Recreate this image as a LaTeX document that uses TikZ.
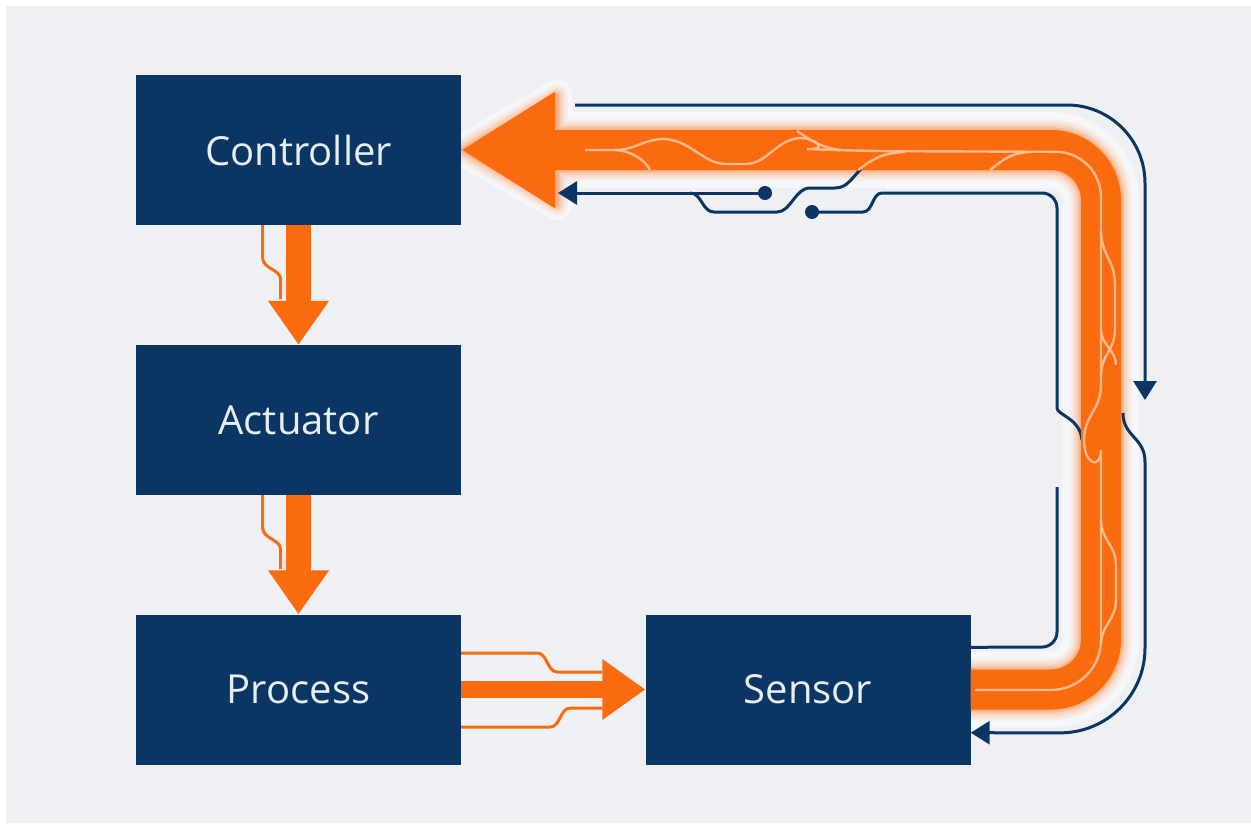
\documentclass[tikz,border=0pt]{standalone}
\usepackage{fontspec}
\setmainfont{Open Sans}
\usetikzlibrary{arrows.meta,calc}
\definecolor{navy}{HTML}{0B3562}
\definecolor{flame}{HTML}{FA6A0E}
\definecolor{paper}{HTML}{EEF0F4}
\definecolor{streak}{HTML}{FFC39A}
\definecolor{label}{HTML}{E6EDF3}
\pgfdeclarelayer{back}
\pgfsetlayers{back,main}

\begin{document}
\begin{tikzpicture}[x=1pt,y=-1pt,
  block/.style={fill=navy, minimum width=325pt, minimum height=150pt,
    inner sep=0pt, text=label, font=\fontsize{40}{48}\selectfont},
  wire/.style={draw=navy, line width=3pt},
  wirearrow/.style={wire, -{Triangle[width=23pt,length=19pt]}},
  flow/.style={draw=flame, line width=25pt, -{Triangle[width=58pt,length=44pt]}},
  sideflow/.style={draw=flame, line width=17pt, -{Triangle[width=58pt,length=43pt]}},
  strand/.style={draw=flame, line width=3pt},
  streakline/.style={draw=streak, line width=2.4pt, opacity=0.9},
  dot/.style={fill=navy}
]
\useasboundingbox (0,0) rectangle (1251,825);

% blocks
\node[block] (ctrl) at (298.5,150)   {Controller};
\node[block] (act)  at (298.5,420)   {Actuator};
\node[block] (proc) at (298.5,689.5) {Process};
\node[block] (sens) at (808,689.5)   {Sensor};

% paper and the soft halo of the feedback loop
\begin{pgfonlayer}{back}
  \fill[white] (0,0) rectangle (1251,825);
  \fill[paper] (6,6) rectangle (1251,823);
  \begin{scope}[transparency group, opacity=0.5]
    \draw[white, line width=76pt, rounded corners=50pt, line join=round]
      (sens.east) -- (1101,689.5) -- (1101,150) -- (555,150);
    \filldraw[white, line width=30pt, line join=round]
      (ctrl.east) -- (557,95) -- (557,205) -- cycle;
  \end{scope}
  \foreach \g/\o in {11/0.05,9/0.06,7/0.08,5/0.10,3/0.14,1.5/0.2}{
    \begin{scope}[transparency group, opacity=\o]
      \draw[flame, line width=40pt+2*\g pt, rounded corners=50pt, line join=round]
        (sens.east) -- (1101,689.5) -- (1101,150) -- (555,150);
      \filldraw[flame, line width=2*\g pt, line join=round]
        (ctrl.east) -- (557,95) -- (557,205) -- cycle;
    \end{scope}
  }
\end{pgfonlayer}

% controller -> actuator -> process
\draw[strand] ($(ctrl.south)+(-36,0)$) -- ++(0,32)
  .. controls +(0,12) and +(0,-10) .. ++(18,22) -- ++(0,20);
\draw[flow] (ctrl.south) -- (act.north);
\draw[strand] ($(act.south)+(-36,0)$) -- ++(0,32)
  .. controls +(0,12) and +(0,-10) .. ++(18,22) -- ++(0,20);
\draw[flow] (act.south) -- (proc.north);

% process -> sensor
\draw[strand] ($(proc.east)+(0,-36.5)$) -- ++(76,0)
  .. controls +(10,0) and +(-10,0) .. ++(20,19) -- ++(45,0);
\draw[strand] ($(proc.east)+(0,37.5)$) -- ++(89,0)
  .. controls +(10,0) and +(-10,0) .. ++(20,-19) -- ++(32,0);
\draw[sideflow] (proc.east) -- (sens.west);

% signal wires
\coordinate (topstart) at (575,105);
\coordinate (downtip) at (1145,400);
\coordinate (reentry) at (1123,413);
\coordinate (dotA) at (765,193);
\coordinate (tipA) at (558,193);
\coordinate (branch) at (690,193);
\coordinate (dotC) at (812,212);
\coordinate (under) at (1082,440);
\coordinate (resume) at (1057,487);

\draw[wirearrow, rounded corners=78pt] (topstart) -- (1145,105) -- (downtip);
\draw[wirearrow] (reentry) .. controls (1123,437) and (1145,437) .. (1145,462)
  [rounded corners=85pt] -- (1145,733) -- ($(sens.south east)+(0,-32)$);
\draw[wirearrow] (dotA) -- (tipA);
\draw[wire] (branch) .. controls (702,193) and (702,212) .. (714,212) -- (777,212)
  .. controls (791,212) and (795,188) .. (810,188) -- (835,188)
  .. controls (848,188) and (852,177) .. (864,166);
\draw[wire] (dotC) -- (863,212) .. controls (873,212) and (872,193) .. (882,193)
  [rounded corners=15pt] -- (1057,193) -- (1057,393) [sharp corners]
  .. controls (1057,415) and (1080,418) .. (under);
\draw[wire, rounded corners=15pt] (resume) -- (1057,647) -- ($(sens.north east)+(0,33)$);
\fill[dot] (dotA) circle (7pt);
\fill[dot] (dotC) circle (7pt);

% feedback loop
\draw[flame, line width=40pt, rounded corners=50pt, -{Triangle[width=110pt,length=94pt]}]
  (sens.east) -- (1101,689.5) -- (1101,150) -- (ctrl.east);

% light strands running along the loop
\draw[streakline] (975,690) [rounded corners=50pt] -- (1101,690) -- (1101,500) [sharp corners]
  .. controls (1101,470) and (1084,465) .. (1084,440)
  .. controls (1084,415) and (1101,410) .. (1101,385)
  [rounded corners=45pt] -- (1101,152) -- (852,151) [sharp corners]
  .. controls (830,150) and (815,138) .. (800,138)
  .. controls (775,140) and (768,164) .. (745,164) -- (725,164)
  .. controls (702,163) and (690,139) .. (662,139)
  .. controls (642,140) and (635,150) .. (615,150) -- (585,150);
\draw[streakline] (615,150) .. controls (632,151) and (645,160) .. (650,170);
\draw[streakline] (797,131) .. controls (808,138) and (818,147) .. (840,150);
\draw[streakline] (858,170) .. controls (872,160) and (880,153) .. (905,152);
\draw[streakline] (990,170) .. controls (1003,160) and (1010,153) .. (1030,152);
\draw[streakline] (1101,230) .. controls (1101,255) and (1115,260) .. (1115,285) -- (1115,330)
  .. controls (1115,350) and (1101,355) .. (1101,375);
\draw[streakline] (1101,330) .. controls (1101,345) and (1116,350) .. (1116,365);
\draw[streakline] (1101,520) .. controls (1101,540) and (1116,545) .. (1116,565) -- (1116,600)
  .. controls (1116,620) and (1101,625) .. (1101,645);
\end{tikzpicture}
\end{document}
